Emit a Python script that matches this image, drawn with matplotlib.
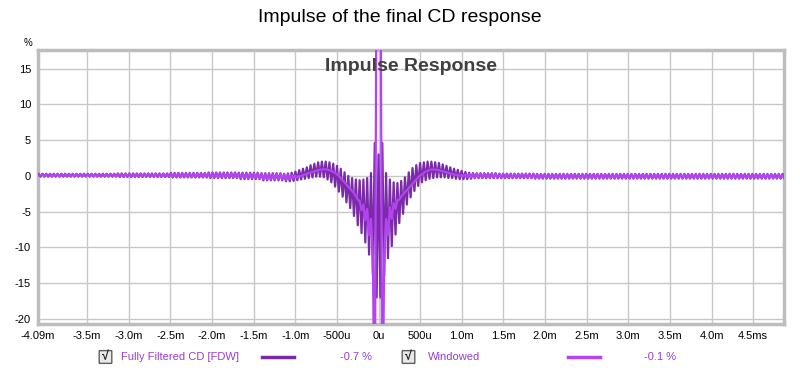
import numpy as np
import matplotlib.pyplot as plt
from matplotlib.patches import FancyBboxPatch

plt.rcParams['font.family'] = ['Liberation Sans', 'DejaVu Sans']
plt.rcParams['axes.unicode_minus'] = False

# sample period of the measurement (44.1 kHz) in ms, first sample index
dt = 1000 / 44100.0
k_first = -182

# Fully Filtered CD [FDW], left tail: runs of (sample pairs, upper, lower)
ff_left = [(22, 0.30, -0.10), (14, 0.35, -0.15), (10, 0.42, -0.22),
           (8, 0.48, -0.30), (6, 0.45, -0.45), (6, 0.38, -0.62)]
# centre, one value per sample, k = -50 .. 50
ff_mid = [0.3, -0.75, 0.35, -0.75, 0.45, -0.7, 0.6, -0.6, 0.8, -0.5,
          1.0, -0.4, 1.2, -0.3, 1.5, -0.2, 1.7, -0.1, 1.9, -0.1,
          2.0, -0.2, 2.0, -0.5, 1.9, -0.9, 1.7, -1.5, 1.4, -2.2,
          1.0, -2.9, 0.5, -3.7, 0.0, -4.5, -0.3, -5.6, -0.5, -6.9,
          -0.6, -8.0, -0.5, -9.3, -0.3, -11.0, 0.4, -13.8, 4.6, -17.0,
          3.0,
          -17.0, 4.6, -14.0, 0.4, -11.5, -0.5, -9.8, -0.9, -8.2, -1.0,
          -6.6, -0.7, -5.3, -0.2, -4.0, 0.5, -3.0, 1.1, -2.1, 1.5,
          -1.4, 1.8, -0.9, 1.9, -0.6, 2.0, -0.4, 2.0, -0.3, 1.9,
          -0.2, 1.8, -0.2, 1.6, -0.2, 1.4, -0.3, 1.2, -0.3, 1.0,
          -0.4, 0.85, -0.45, 0.7, -0.45, 0.55, -0.45, 0.45, -0.4, 0.4]
# right tail: runs of (sample pairs, upper, lower)
ff_right = [(6, 0.38, -0.32), (10, 0.32, -0.32), (67, 0.28, -0.38)]

# Windowed
win_left = [(22, 0.25, -0.06), (14, 0.28, -0.10), (10, 0.34, -0.15),
            (8, 0.38, -0.20), (6, 0.34, -0.32), (6, 0.24, -0.48)]
win_mid = [0.2, -0.55, 0.15, -0.45, 0.1, -0.35, 0.05, -0.22, 0.02, -0.05,
           0.12, 0.2, 0.3, 0.38, 0.46, 0.55, 0.63, 0.72, 0.8, 0.85,
           0.9, 0.93, 0.92, 0.87, 0.8, 0.7, 0.55, 0.4, 0.2, 0.0,
           -0.3, -0.6, -0.9, -1.2, -1.5, -1.8, -2.1, -2.4, -2.8, -3.3,
           -3.5, -4.8, -4.0, -6.2, -4.6, -8.3, -6.0, -11.0, -40.0, 40.0,
           60.0,
           40.0, -40.0, -11.0, -6.0, -8.3, -4.4, -6.0, -3.8, -4.6, -3.4,
           -3.3, -2.9, -2.6, -2.3, -2.0, -1.7, -1.4, -1.1, -0.8, -0.5,
           -0.2, 0.05, 0.25, 0.45, 0.6, 0.72, 0.82, 0.88, 0.9, 0.88,
           0.85, 0.8, 0.73, 0.65, 0.57, 0.5, 0.42, 0.35, 0.28, 0.22,
           0.14, 0.16, 0.0, 0.15, -0.1, 0.2, -0.18, 0.25, -0.22, 0.3]
win_right = [(6, 0.30, -0.24), (10, 0.26, -0.26), (67, 0.22, -0.30)]

x_ticks = [-4.09, -3.5, -3.0, -2.5, -2.0, -1.5, -1.0, -0.5, 0.0, 0.5,
           1.0, 1.5, 2.0, 2.5, 3.0, 3.5, 4.0, 4.5]
x_labels = ['-4.09m', '-3.5m', '-3.0m', '-2.5m', '-2.0m', '-1.5m', '-1.0m',
            '-500u', '0u', '500u', '1.0m', '1.5m', '2.0m', '2.5m', '3.0m',
            '3.5m', '4.0m', '4.5ms']
y_ticks = [-20, -15, -10, -5, 0, 5, 10, 15]

legend_names = ['Fully Filtered CD [FDW]', 'Windowed']
legend_values = ['-0.7 %', '-0.1 %']

c_ff = '#7a2ca8'
c_win = '#b444f0'
c_text = '#9a3ccc'


def tail(runs, hi_first):
    vals = []
    for n, hi, lo in runs:
        pair = [hi, lo] if hi_first else [lo, hi]
        vals += pair * n
    return vals


ff = np.array(tail(ff_left, True) + ff_mid + tail(ff_right, False))
win = np.array(tail(win_left, True) + win_mid + tail(win_right, False))
t = (k_first + np.arange(len(ff))) * dt

W, H = 800, 375
fig = plt.figure(figsize=(8, 3.75), dpi=100)
ax = fig.add_axes([38 / W, 1 - 324 / H, (784 - 38) / W, (324 - 50) / H])

ax.plot(t, ff, color=c_ff, lw=1.6, zorder=3)
ax.plot(t, win, color=c_win, lw=1.6, zorder=4)

ax.set_xlim(-4.09, 4.87)
ax.set_ylim(-20.7, 17.6)
ax.set_xticks(x_ticks)
ax.set_xticklabels(x_labels)
ax.set_yticks(y_ticks)
ax.tick_params(length=0, labelsize=8, pad=5, colors='#000000')
ax.grid(True, color='#c8c8c8', lw=1)
ax.set_axisbelow(True)
for s in ax.spines.values():
    s.set_color('#bdbdbd')
    s.set_linewidth(2.5)

fig.text(400 / W, 1 - 18 / H, 'Impulse of the final CD response',
         ha='center', va='center', fontsize=14)
ax.text(0.5, 0.94, 'Impulse Response', transform=ax.transAxes,
        ha='center', va='center', fontsize=14, fontweight='bold',
        color='#404040', zorder=5)
fig.text(28 / W, 1 - 43 / H, '%', ha='center', va='center', fontsize=7)

# legend row below the plot
ly = 1 - 357 / H
for bx, tx, lx, vx, name, val, col in [
        (105, 121, 262, 356, legend_names[0], legend_values[0], c_ff),
        (408, 428, 568, 660, legend_names[1], legend_values[1], c_win)]:
    box = FancyBboxPatch(((bx - 5) / W, ly - 6 / H), 11 / W, 12 / H,
                         boxstyle='round,pad=0.001', transform=fig.transFigure,
                         facecolor='#e8e8e8', edgecolor='#606060', lw=1)
    fig.patches.append(box)
    fig.text(bx / W, ly, '√', ha='center', va='center', fontsize=9,
             fontweight='bold', color='#202020')
    fig.text(tx / W, ly, name, ha='left', va='center', fontsize=8, color=c_text)
    fig.lines.append(plt.Line2D([lx / W, (lx + 32) / W], [ly, ly],
                                transform=fig.transFigure, color=col, lw=2.5))
    fig.text(vx / W, ly, val, ha='center', va='center', fontsize=8,
             color=c_text)

fig.savefig('out.png', dpi=100)
